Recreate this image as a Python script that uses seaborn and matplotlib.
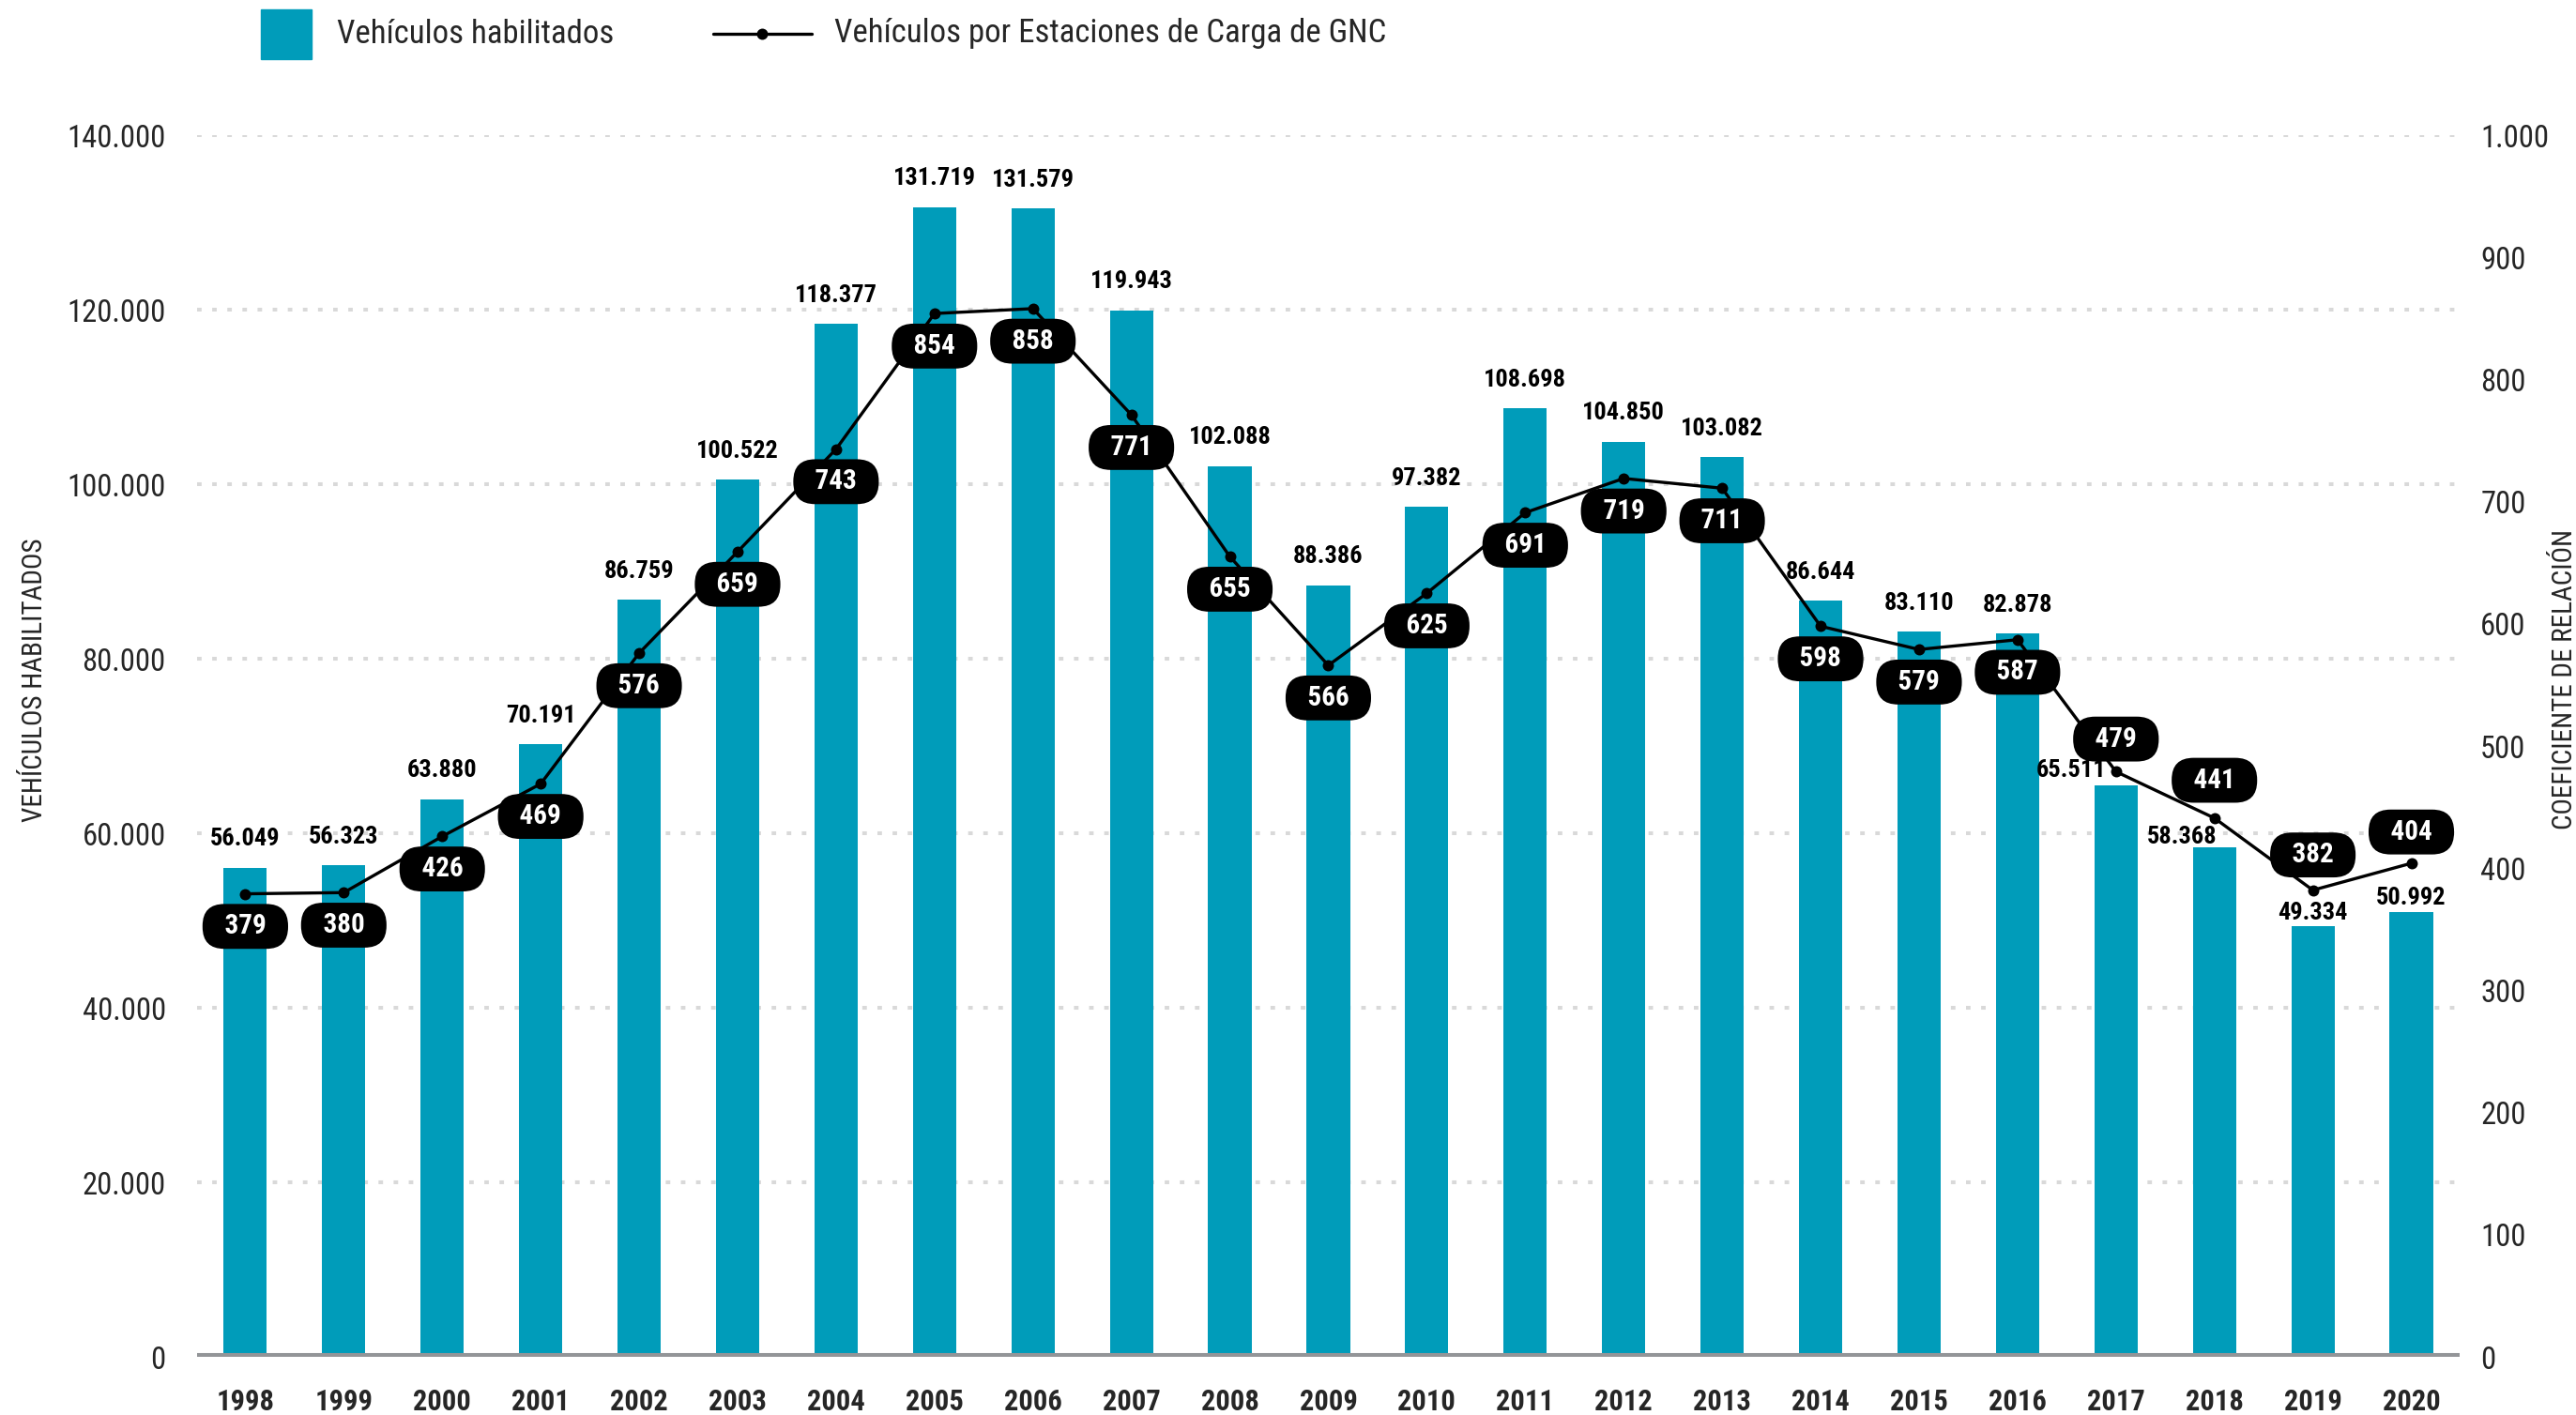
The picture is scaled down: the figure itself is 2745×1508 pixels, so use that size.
import numpy as np
import matplotlib
matplotlib.use("Agg")
import matplotlib.pyplot as plt
from matplotlib import font_manager
from matplotlib.lines import Line2D
from matplotlib.patches import Rectangle
import seaborn as sns

# Datos
anios = [str(a) for a in range(1998, 2021)]
vehiculos = [56049, 56323, 63880, 70191, 86759, 100522, 118377, 131719, 131579, 119943,
             102088, 88386, 97382, 108698, 104850, 103082, 86644, 83110, 82878, 65511,
             58368, 49334, 50992]
coeficiente = [379, 380, 426, 469, 576, 659, 743, 854, 858, 771, 655, 566, 625, 691,
               719, 711, 598, 579, 587, 479, 441, 382, 404]
ticks_izq = [0, 20000, 40000, 60000, 80000, 100000, 120000, 140000]
ticks_der = [0, 100, 200, 300, 400, 500, 600, 700, 800, 900, 1000]

# desplazamientos (puntos) de las etiquetas
offset_barras = {"2017": (-34, 11), "2018": (-25, 8), "2019": (0, 10), "2020": (0, 11)}
offset_pildoras = {"2017": 25, "2018": 29, "2019": 27, "2020": 24}

AZUL = "#009cba"
GRIS = "#939598"

sns.set_style("white")
disponibles = {f.name for f in font_manager.fontManager.ttflist}
fuente = "Roboto"
for cand in ["Roboto Condensed", "Liberation Sans Narrow"]:
    if cand in disponibles:
        fuente = cand
        break
plt.rcParams["font.family"] = [fuente, "DejaVu Sans"]


def miles(v):
    return f"{v:,.0f}".replace(",", ".")


fig = plt.figure(figsize=(27.45, 15.08), dpi=100)
ax = fig.add_axes([0.0765, 0.0411, 0.8783, 0.8634])

sns.barplot(x=anios, y=vehiculos, ax=ax, color=AZUL, saturation=1, width=0.44,
            linewidth=0, zorder=2)

ax.set_xlim(-0.49, 22.49)
ax.set_ylim(0, 140000)
ax.set_yticks(ticks_izq)
ax.set_yticklabels([miles(t) for t in ticks_izq])
ax.yaxis.grid(True, color="#d9d9d9", linewidth=2.9, linestyle=(0, (1.2, 2.8)))
ax.xaxis.grid(False)
ax.set_axisbelow(True)
ax.axhline(0, color=GRIS, linewidth=5.8, zorder=3, solid_capstyle="butt")
for s in ax.spines.values():
    s.set_visible(False)
ax.tick_params(axis="y", length=0, pad=24, labelsize=23.5)
ax.tick_params(axis="x", length=0, pad=24, labelsize=22)
for lbl in ax.get_xticklabels():
    lbl.set_fontweight("bold")
ax.set_xlabel("")
ax.set_ylabel("")

# etiquetas de barras
for i, (a, v) in enumerate(zip(anios, vehiculos)):
    dx, dy = offset_barras.get(a, (0, 22))
    ax.annotate(miles(v), xy=(i, v), xytext=(dx, dy), textcoords="offset points",
                ha="center", va="center", fontsize=19, fontweight="bold", color="black",
                zorder=4)

# eje derecho
ax2 = ax.twinx()
ax2.set_position(ax.get_position())
sns.lineplot(x=np.arange(len(anios)), y=coeficiente, ax=ax2, color="black", marker="o",
             markersize=8.6, markeredgewidth=0, linewidth=2.4, zorder=5)
ax2.set_ylim(0, 1000)
ax2.set_xlim(-0.49, 22.49)
ax2.set_yticks(ticks_der)
ax2.set_yticklabels([miles(t) for t in ticks_der])
ax2.tick_params(axis="y", length=0, pad=16, labelsize=23.5)
ax2.grid(False)
for s in ax2.spines.values():
    s.set_visible(False)
ax2.set_ylabel("")

for i, (a, c) in enumerate(zip(anios, coeficiente)):
    dy = offset_pildoras.get(a, -25)
    ax2.annotate(f"  {c}  ", xy=(i, c), xytext=(0, dy), textcoords="offset points",
                 ha="center", va="center", fontsize=21, fontweight="bold", color="white",
                 zorder=6,
                 bbox=dict(boxstyle="round,pad=0.34,rounding_size=0.8", fc="black",
                           ec="black", lw=0))

# titulos de ejes
fig.text(37 / 2745, 1 - 725 / 1508, "VEHÍCULOS HABILITADOS", rotation=90, fontsize=21,
         ha="center", va="center")
fig.text(2733 / 2745, 1 - 724 / 1508, "COEFICIENTE DE RELACIÓN", rotation=90,
         fontsize=21, ha="center", va="center")

# leyenda
W, H = 2745, 1508
fig.patches.append(Rectangle((278 / W, 1 - 63 / H), 54 / W, 53 / H, color=AZUL,
                             transform=fig.transFigure, figure=fig))
fig.text(359 / W, 1 - 36 / H, "Vehículos habilitados", fontsize=25, va="center",
         ha="left")
fig.add_artist(Line2D([760 / W, 865 / W], [1 - 36 / H, 1 - 36 / H], color="black",
                      linewidth=2.4, transform=fig.transFigure))
fig.add_artist(Line2D([812 / W], [1 - 36 / H], color="black", marker="o",
                      markersize=8.6, markeredgewidth=0, transform=fig.transFigure))
fig.text(889 / W, 1 - 36 / H, "Vehículos por Estaciones de Carga de GNC", fontsize=25,
         va="center", ha="left")

fig.savefig("out.png", dpi=100)
